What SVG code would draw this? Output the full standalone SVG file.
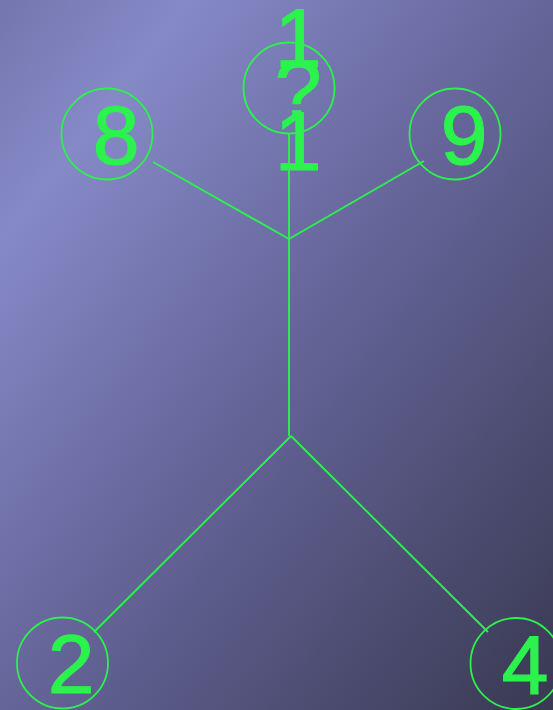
<svg xmlns="http://www.w3.org/2000/svg" width="553" height="710" viewBox="0 0 553 710">
<defs>
<linearGradient id="bg" x1="0" y1="0" x2="1" y2="1">
<stop offset="0" stop-color="#7476ae"/>
<stop offset="0.17" stop-color="#8589c6"/>
<stop offset="0.5" stop-color="#65659a"/>
<stop offset="1" stop-color="#393952"/>
</linearGradient>
<style>
.node circle{fill:none;stroke:#2cf24e;stroke-width:1.8}
.node text{fill:#2cf24e;stroke:#2cf24e;stroke-width:1.2;font-family:"Liberation Sans",Arial,sans-serif;font-size:84px;text-anchor:middle}
.edges line{stroke:#2cf24e;stroke-width:1.9;fill:none}
</style>
</defs>
<rect x="0" y="0" width="553" height="710" fill="url(#bg)"/>
<g class="edges" id="edges">
<line x1="289" y1="134" x2="289" y2="436"/>
<line x1="153" y1="162" x2="289" y2="239"/>
<line x1="289" y1="239" x2="424" y2="161"/>
<line x1="291" y1="436" x2="94" y2="632"/>
<line x1="291" y1="436" x2="488" y2="632"/>
</g>
<g class="node" id="node-1">
<circle cx="289" cy="88" r="45.5"/>
<text x="298" y="67">1</text>
<text x="298" y="118.5">?</text>
<text x="298" y="170">1</text>
</g>
<g class="node" id="node-8">
<circle cx="107" cy="134" r="45.5"/>
<text x="116" y="163.5">8</text>
</g>
<g class="node" id="node-9">
<circle cx="455" cy="134" r="45.5"/>
<text x="464" y="163.5">9</text>
</g>
<g class="node" id="node-2">
<circle cx="62.5" cy="663" r="45.5"/>
<text x="71" y="693">2</text>
</g>
<g class="node" id="node-4">
<circle cx="516" cy="663.5" r="45.5"/>
<text x="525" y="693.5">4</text>
</g>
</svg>
